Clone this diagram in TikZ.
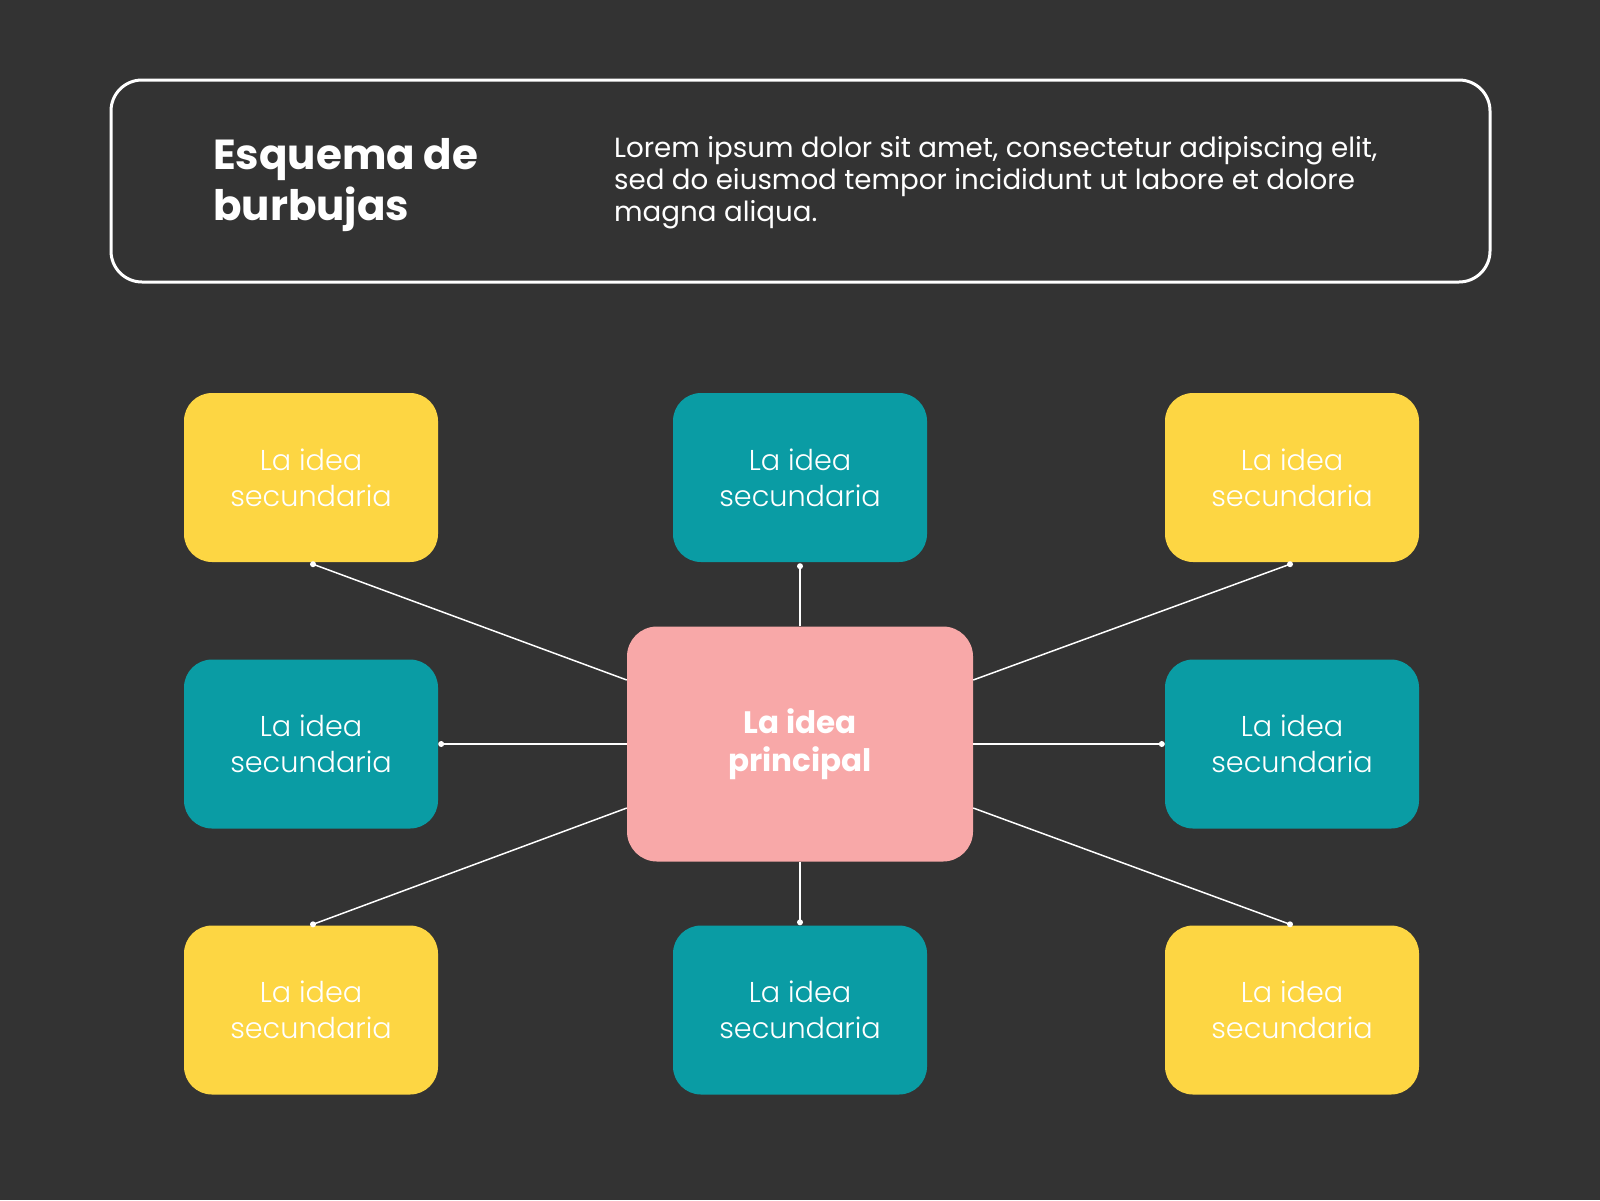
\documentclass[tikz,border=0pt]{standalone}
\usepackage{fontspec}
\setmainfont{Poppins}
\newfontfamily\poplight{Poppins Light}
\definecolor{bgc}{HTML}{333333}
\definecolor{yel}{HTML}{FDD643}
\definecolor{teal2}{HTML}{0A9CA4}
\definecolor{pinkc}{HTML}{F8A8A8}
\begin{document}
\begin{tikzpicture}[x=1pt,y=-1pt,
  bubble/.style={rounded corners=28pt, minimum width=254pt, minimum height=169pt, inner sep=0pt,
    text=white, align=center, font=\poplight\fontsize{28.7}{36}\selectfont},
  ybub/.style={bubble, fill=yel},
  tbub/.style={bubble, fill=teal2},
  conn/.style={draw=white, line width=1.5pt},
  dotc/.style={fill=white}]
\fill[bgc] (0,0) rectangle (1600,1200);
\useasboundingbox (0,0) rectangle (1600,1200);
% header
\node[draw=white, line width=3pt, rounded corners=31pt, minimum width=1379pt, minimum height=202pt, inner sep=0pt] (head) at (800.5,181) {};
\node[anchor=base west, inner sep=0pt, align=left, text=white, font=\bfseries\fontsize{42}{51}\selectfont] (title) at (213,220) {Esquema de\\burbujas};
\node[anchor=base west, inner sep=0pt, align=left, text=white, font=\fontsize{27.7}{31.6}\selectfont] (body) at (614,221) {Lorem ipsum dolor sit amet, consectetur adipiscing elit,\\sed do eiusmod tempor incididunt ut labore et dolore\\magna aliqua.};
% bubbles
\node[ybub] (tl) at (311,477.5) {La idea\\secundaria};
\node[tbub] (tc) at (800,477.5) {La idea\\secundaria};
\node[ybub] (tr) at (1292,477.5) {La idea\\secundaria};
\node[tbub] (ml) at (311,744) {La idea\\secundaria};
\node[tbub] (mr) at (1292,744) {La idea\\secundaria};
\node[ybub] (bl) at (311,1010) {La idea\\secundaria};
\node[tbub] (bc) at (800,1010) {La idea\\secundaria};
\node[ybub] (br) at (1292,1010) {La idea\\secundaria};
\node[bubble, fill=pinkc, rounded corners=30pt, minimum width=346pt, minimum height=235pt,
  font=\bfseries\fontsize{31}{38.5}\selectfont] (main) at (800,744) {\raisebox{-2pt}{La idea}\\\raisebox{-2pt}{principal}};
% dot coordinates
\coordinate (dtl) at ([xshift=2pt,yshift=-2pt]tl.south);
\coordinate (dtc) at ([yshift=-4pt]tc.south);
\coordinate (dtr) at ([xshift=-2pt,yshift=-2pt]tr.south);
\coordinate (dml) at ([xshift=3pt]ml.east);
\coordinate (dmr) at ([xshift=-3pt]mr.west);
\coordinate (dbl) at ([xshift=2pt,yshift=1pt]bl.north);
\coordinate (dbc) at ([yshift=3pt]bc.north);
\coordinate (dbr) at ([xshift=-2pt,yshift=1pt]br.north);
% connectors
\draw[conn] ([yshift=64pt]main.west) -- (dtl);
\draw[conn] (main.north) -- (dtc);
\draw[conn] ([yshift=64pt]main.east) -- (dtr);
\draw[conn] (main.west) -- (dml);
\draw[conn] (main.east) -- (dmr);
\draw[conn] ([yshift=-64pt]main.west) -- (dbl);
\draw[conn] (main.south) -- (dbc);
\draw[conn] ([yshift=-64pt]main.east) -- (dbr);
\foreach \d in {dtl,dtc,dtr,dml,dmr,dbl,dbc,dbr} \fill[dotc] (\d) circle (3pt);
\end{tikzpicture}
\end{document}
